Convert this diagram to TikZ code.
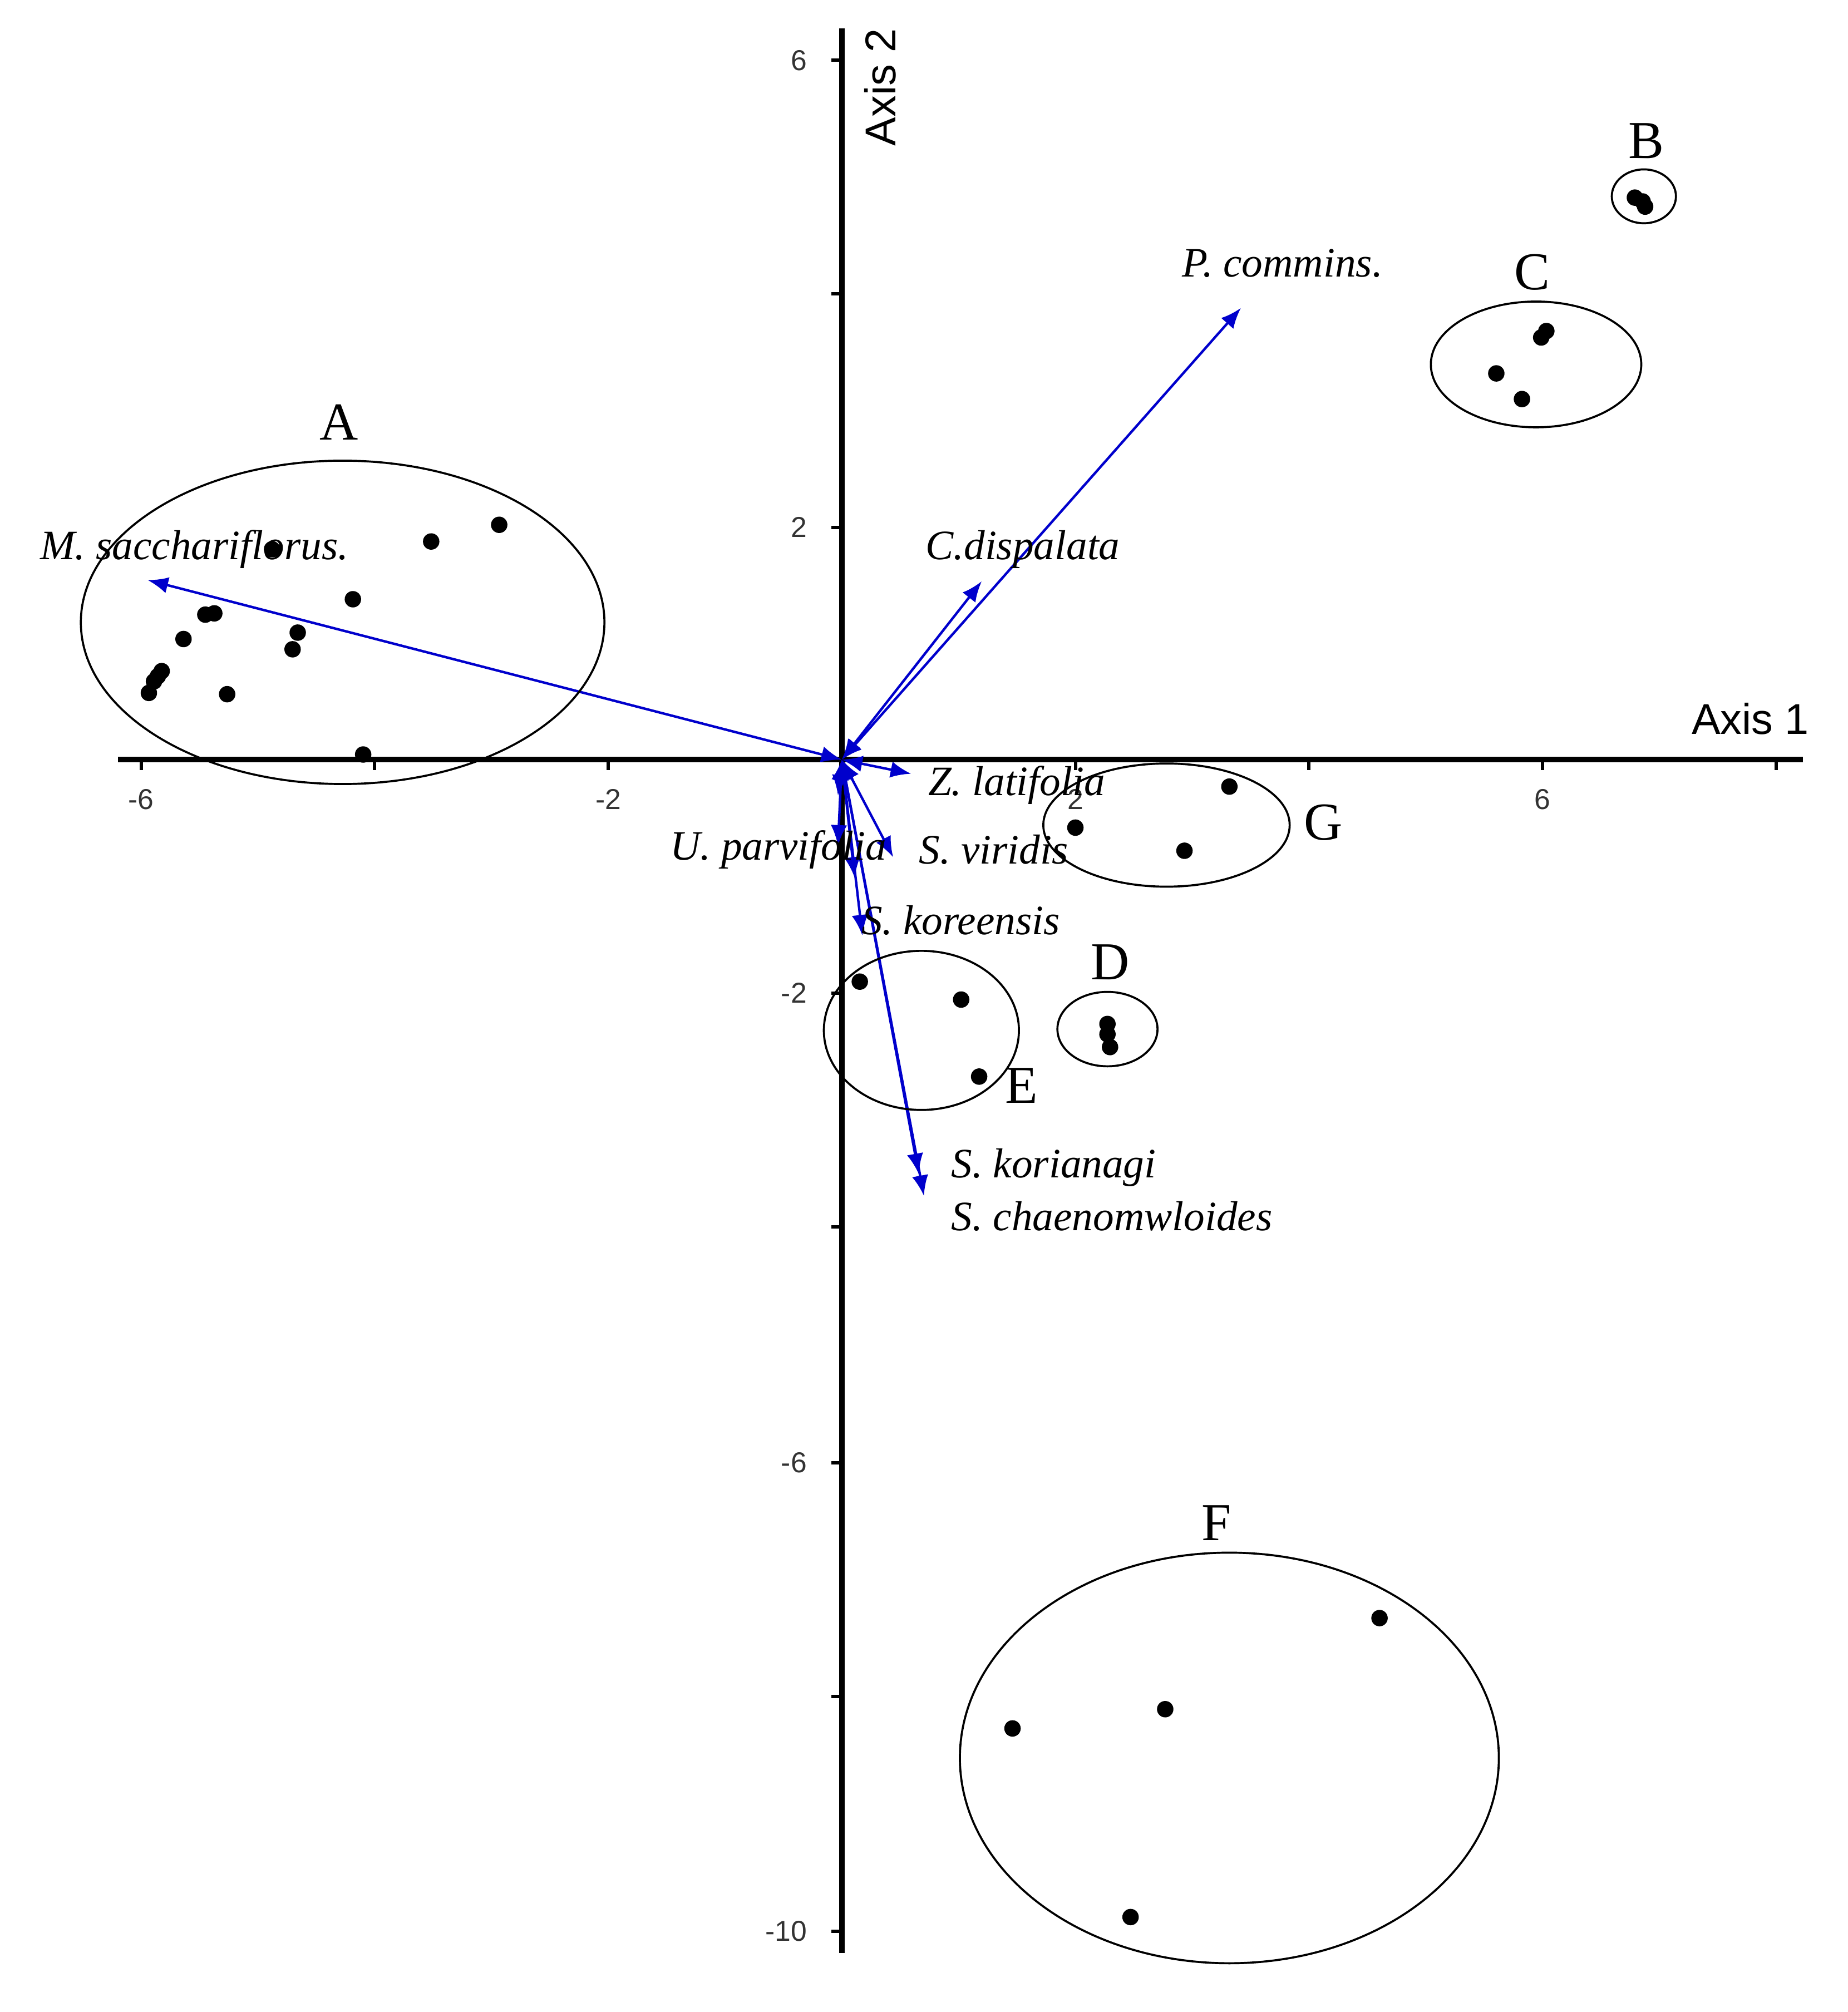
\documentclass[tikz,border=0pt]{standalone}
\usepackage{fontspec}
\setmainfont{Liberation Serif}
\newfontfamily\axfont{Liberation Sans}
\usetikzlibrary{arrows.meta}
\begin{document}
\begin{tikzpicture}[x=0.010989cm,y=-0.010989cm,
  ax/.style={line width=1.3pt},
  vec/.style={blue!80!black,line width=0.6pt,{Latex[length=5pt,width=4pt]}-{Latex[length=5pt,width=4pt]}},
  pt/.style={circle,fill=black,inner sep=0pt,minimum size=4pt},
  grp/.style={draw=black,line width=0.5pt},
  gl/.style={font=\fontsize{13}{13}\selectfont},
  sl/.style={font=\fontsize{10.2}{11}\selectfont\itshape},
  tl/.style={font=\axfont\fontsize{7}{8}\selectfont,text=black!80}]
\useasboundingbox (0,0) rectangle (1440,1568);
% axes
\coordinate (xl) at (92,592); \coordinate (xr) at (1405,592);
\coordinate (yt) at (656,22); \coordinate (yb) at (656,1522);
\draw[ax] (xl) -- (xr);
\draw[ax] (yt) -- (yb);
\foreach \x in {110,292,474,838,1020,1202,1384} \draw[line width=0.8pt] (\x,592) -- (\x,600);
\foreach \y in {47,229,411,774,956,1140,1322,1505} \draw[line width=0.8pt] (656,\y) -- (648,\y);
\node[tl] (t1) at (110,623) {-6};
\node[tl] (t2) at (474,623) {-2};
\node[tl] (t3) at (838,623) {2};
\node[tl] (t4) at (1202,623) {6};
\node[tl,anchor=east] (t5) at (640,47) {6};
\node[tl,anchor=east] (t6) at (640,411) {2};
\node[tl,anchor=east] (t7) at (640,774) {-2};
\node[tl,anchor=east] (t8) at (640,1140) {-6};
\node[tl,anchor=east] (t9) at (640,1505) {-10};
\node[font=\axfont\fontsize{10.5}{12}\selectfont] (ax1) at (1364,560) {Axis 1};
\node[font=\axfont\fontsize{10.5}{12}\selectfont,rotate=90] (ax2) at (686,68) {Axis 2};
% vectors
\coordinate (o) at (656,592);
\coordinate (vM) at (115,452);
\coordinate (vP) at (967,240);
\coordinate (vC) at (765,453);
\coordinate (vZ) at (710,603);
\coordinate (vV) at (696,668);
\coordinate (vU) at (653,659);
\coordinate (vK) at (672,729);
\coordinate (vK2) at (666,684);
\coordinate (vK3) at (653,620);
\coordinate (vS1) at (716,915);
\coordinate (vS2) at (720,932);
\foreach \v in {vM,vP,vC,vZ,vV,vU,vK,vK2,vK3,vS1,vS2} \draw[vec] (o) -- (\v);
% species labels
\node[sl,anchor=west] (lM) at (20,428) {M. sacchariflorus.};
\node[sl,anchor=west] (lP) at (910,205) {P. commins.};
\node[sl,anchor=west] (lC) at (710,428) {C.dispalata};
\node[sl,anchor=west] (lZ) at (712,612) {Z. latifolia};
\node[sl,anchor=east] (lU) at (702,662) {U. parvifolia};
\node[sl,anchor=west] (lV) at (705,662) {S. viridis};
\node[sl,anchor=west] (lK) at (660,717) {S. koreensis};
\node[sl,anchor=west] (lS1) at (730,910) {S. korianagi};
\node[sl,anchor=west] (lS2) at (730,948) {S. chaenomwloides};
% groups
\draw[grp] (267,485) ellipse [x radius=204,y radius=126];
\draw[grp] (1281,153) ellipse [x radius=25,y radius=21];
\draw[grp] (1197,284) ellipse [x radius=82,y radius=49];
\draw[grp] (909,643) ellipse [x radius=96,y radius=48];
\draw[grp] (863,802) ellipse [x radius=39,y radius=29];
\draw[grp] (718,803) ellipse [x radius=76,y radius=62];
\draw[grp] (958,1370) ellipse [x radius=210,y radius=160];
\node[gl] (gA) at (264,329) {A};
\node[gl] (gB) at (1283,110) {B};
\node[gl] (gC) at (1194,212) {C};
\node[gl] (gG) at (1031,641) {G};
\node[gl] (gD) at (865,750) {D};
\node[gl] (gE) at (796,846) {E};
\node[gl] (gF) at (948,1187) {F};
% points
\foreach \p [count=\i] in {(389,409),(336,422),(212,428),(275,467),(167,478),(160,479),(143,498),(232,493),(228,506),(126,523),(123,527),(120,531),(116,540),(177,541),(283,588),
(1274,154),(1280,157),(1282,161),(1205,258),(1201,263),(1166,291),(1186,311),
(958,613),(838,645),(923,663),(863,798),(863,806),(865,816),
(670,765),(749,779),(763,839),(1075,1261),(908,1332),(789,1347),(881,1494)}
  \node[pt] (p\i) at \p {};
\end{tikzpicture}
\end{document}
